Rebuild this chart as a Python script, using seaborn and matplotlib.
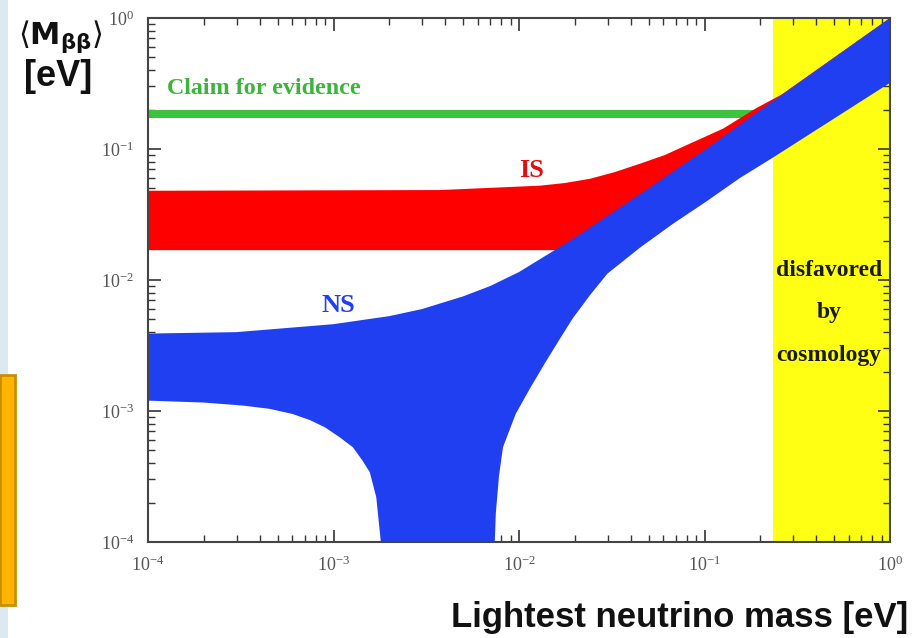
import matplotlib
matplotlib.use("Agg")
import matplotlib.pyplot as plt
import seaborn as sns
from matplotlib.patches import Rectangle

# values (lightest mass [eV] -> <M_bb> [eV])
ns_upper_m = [1e-4, 3e-4, 1e-3, 2e-3, 3e-3, 5e-3, 7e-3, 1e-2, 2e-2, 5e-2, 0.1, 0.234, 1.0]
ns_upper = [0.0039, 0.0040, 0.0046, 0.0053, 0.0060, 0.0075, 0.0090, 0.0115, 0.021, 0.050, 0.098, 0.232, 1.0]

ns_lower_left_m = [1e-4, 2e-4, 3.25e-4, 4.5e-4, 6e-4, 7.5e-4, 9e-4, 1.08e-3, 1.27e-3,
                   1.43e-3, 1.57e-3, 1.7e-3, 1.74e-3, 1.8e-3, 1.85e-3]
ns_lower_left = [0.0012, 0.00116, 0.0011, 0.00104, 9.5e-4, 8.5e-4, 7.5e-4, 6.3e-4, 5.3e-4,
                 4.2e-4, 3.4e-4, 2.2e-4, 1.6e-4, 1.0e-4, 5e-5]

ns_lower_right_m = [7.4e-3, 7.4e-3, 7.5e-3, 7.8e-3, 8.2e-3, 9.6e-3, 0.0115, 0.0138, 0.0166,
                    0.0195, 0.0242, 0.030, 0.045, 0.068, 0.103, 0.155, 0.234, 1.0]
ns_lower_right = [5e-5, 1e-4, 1.66e-4, 3.2e-4, 5.3e-4, 9.5e-4, 1.5e-3, 2.32e-3, 3.55e-3,
                  5.1e-3, 7.7e-3, 0.0112, 0.0177, 0.027, 0.040, 0.060, 0.086, 0.32]

is_upper_m = [1e-4, 3.75e-3, 0.013, 0.0177, 0.0242, 0.0329, 0.0449, 0.0612, 0.0835,
              0.126, 0.19, 0.26, 1.0]
is_upper = [0.048, 0.0486, 0.0525, 0.055, 0.0593, 0.0667, 0.0772, 0.090, 0.11,
            0.143, 0.205, 0.26, 1.0]
is_lower_m = [1e-4, 0.016, 0.03, 0.1, 1.0]
is_lower = [0.0169, 0.0169, 0.022, 0.045, 0.33]

claim_band = [0.172, 0.200]
claim_m_max = 0.22
cosmo_limit = 0.234

sns.set_theme(style="ticks")
plt.rcParams["font.family"] = ["Liberation Serif", "DejaVu Serif"]
plt.rcParams["mathtext.fontset"] = "stix"

fig = plt.figure(figsize=(9.15, 6.38), dpi=100)

# slide decoration on the left edge
fig.add_artist(Rectangle((0, 0), 8 / 915, 1, transform=fig.transFigure,
                         facecolor="#dde9f0", edgecolor="none", zorder=0))
fig.add_artist(Rectangle((0, 1 - 605 / 638), 15 / 915, 230 / 638, transform=fig.transFigure,
                         facecolor="#ffb400", edgecolor="#c98f00", lw=2, zorder=1))

ax = fig.add_axes([148 / 915, 1 - 542 / 638, 742 / 915, 524 / 638])
ax.set_xscale("log")
ax.set_yscale("log")
ax.set_xlim(1e-4, 1)
ax.set_ylim(1e-4, 1)

# disfavored by cosmology
ax.axvspan(cosmo_limit, 1, color="#ffff14", lw=0, zorder=0.5)

# claim for evidence band
ax.fill_between([1e-4, claim_m_max], claim_band[0], claim_band[1],
                color="#3cc43c", lw=0, zorder=1)

# inverted spectrum
ax.fill(is_upper_m + is_lower_m[::-1], is_upper + is_lower[::-1],
        color="#ff0000", lw=0, zorder=2)

# normal spectrum
poly_m = ns_upper_m + ns_lower_right_m[::-1] + ns_lower_left_m[::-1]
poly_y = ns_upper + ns_lower_right[::-1] + ns_lower_left[::-1]
ax.fill(poly_m, poly_y, color="#1f3ff0", lw=0, zorder=3)

ax.text(1.26e-4, 0.29, "Claim for evidence", color="#3cb43c", fontsize=17.3,
        fontweight="bold", va="center", ha="left", zorder=5)
ax.text(0.0117, 0.068, "IS", color="#e01010", fontsize=19, fontweight="bold",
        ha="center", va="center", zorder=5)
ax.text(0.00106, 0.0064, "NS", color="#1f3ff0", fontsize=19, fontweight="bold",
        ha="center", va="center", zorder=5)
ax.text(0.47, 0.0056, "disfavored\nby\ncosmology", color="#1a1a1a", fontsize=17,
        fontweight="bold", ha="center", va="center", linespacing=2.35, zorder=5)

ax.tick_params(which="both", direction="in", top=True, right=True, color="#333333")
ax.tick_params(which="major", length=9, width=1.2, labelsize=13, labelcolor="#555555", pad=10)
ax.tick_params(which="minor", length=5, width=1.0)
for sp in ax.spines.values():
    sp.set_color("#444444")
    sp.set_linewidth(1.5)
    sp.set_zorder(6)
    sp.set_visible(True)

fig.text(18 / 915, 1 - 37 / 638, r"$\langle\mathbf{M}_{\mathbf{\beta\beta}}\rangle$",
         math_fontfamily="dejavusans", fontsize=22, ha="left", va="center", color="#111111")
fig.text(58 / 915, 1 - 77 / 638, "[eV]", family=["Liberation Sans", "DejaVu Sans"],
         fontweight="bold", fontsize=26, ha="center", va="center", color="#111111")
fig.text(908 / 915, 1 - 617 / 638, "Lightest neutrino mass [eV]",
         family=["Liberation Sans", "DejaVu Sans"], fontweight="bold", fontsize=25,
         ha="right", va="center", color="#111111")

fig.savefig("out.png", dpi=100)
